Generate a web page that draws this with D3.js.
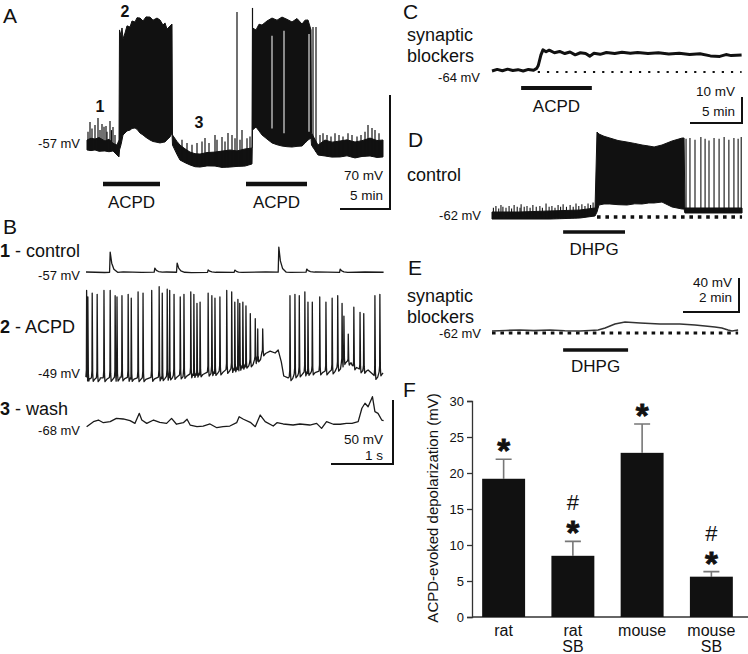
<!DOCTYPE html>
<html>
<head>
<meta charset="utf-8">
<script src="https://cdn.jsdelivr.net/npm/d3@7"></script>
<style>
body { margin: 0; background: #fff; }
svg { font-family: "Liberation Sans", Arial, Helvetica, sans-serif; }
text { fill: #111; }
</style>
</head>
<body>
<script>
// ---- panel A: whole-cell recording, time in min, voltage in mV
// envelope of the trace: [t, low mV, high mV]
var aEnvelope = [
  [0.0,-58.2,-52.1],[0.4,-58.6,-51.0],[0.8,-58.2,-51.5],[1.2,-59.0,-50.6],[1.8,-58.8,-52.7],[2.2,-59.3,-51.6],
  [2.6,-58.8,-54.1],[3.0,-61.3,-55.2],[3.2,-62.5,-52.1],
  [3.25,-58.2,15.5],[3.4,-55,12],[3.5,-52.1,16.7],[3.6,-49,10],[3.8,-47.8,13.6],[4.0,-46.5,18],[4.3,-46.0,17.3],
  [4.5,-45,21],[4.8,-44.7,20.4],[5.0,-45.5,23],[5.3,-47.8,22.8],[5.6,-49,21],[5.9,-50.5,23.5],[6.3,-52.1,23.4],
  [6.6,-53,21.5],[7.0,-53.5,22.8],[7.3,-53.9,21.6],[7.6,-53.5,18.5],[7.8,-53.3,19.8],[8.0,-52,16],[8.3,-50.2,17.9],[8.5,-47.8,19.1],
  [8.55,-55.2,-49.0],[9.0,-61,-53],[9.3,-64.4,-55.2],[9.8,-66,-57.5],[10.3,-67.4,-59.5],[10.8,-68.5,-60.5],[11.3,-68.7,-60.7],
  [12.0,-68.0,-59.8],[12.8,-68.1,-59.5],[13.5,-68.9,-58.9],[14.3,-68.7,-58.2],[15.0,-68.3,-58.8],[15.8,-68.1,-57.6],[16.5,-66.8,-57.0],
  [16.55,-46.0,16.7],[16.9,-44.1,15.5],[17.2,-46.5,19],[17.5,-49.0,18.5],[18.0,-51.5,21],[18.5,-53.9,22.8],[19.0,-55,21.5],
  [19.5,-55.8,23.4],[20.0,-56.2,22],[20.5,-56.4,20.4],[21.0,-56,22.5],[21.5,-55.8,19.1],[21.8,-54,21.5],[22.1,-52.1,21.6],[22.4,-50.9,15.5],
  [22.45,-55.2,-47.8],[23.1,-61.3,-55.2],[23.8,-61.9,-52.1],[24.5,-62.6,-53.4],[25.3,-62.5,-52.7],[26.0,-61.8,-52.0],
  [26.8,-63.1,-53.3],[27.5,-62.2,-52.5],[28.3,-61.9,-50.9],[29.0,-62.8,-52.4],[29.6,-62.5,-52.1]
];
// single events rising out of the envelope: [t, peak mV]
var aSpikes = [
  [0.1,-47],[0.3,-41],[0.5,-45],[0.8,-42.9],[1.1,-38.6],[1.3,-46],[1.5,-42.3],[1.7,-44],[1.9,-43.5],[2.0,-47],
  [2.3,-40.4],[2.45,-46],[2.6,-44.1],[2.8,-49],
  [9.5,-52],[10.0,-54],[10.5,-55],[11.0,-54],[11.5,-53],[11.8,-50.9],[12.2,-54],[12.8,-49],[13.0,-52],[13.5,-50.2],
  [13.8,-53],[14.1,-47.8],[14.5,-49],[14.8,-51],[15.0,26.5],[15.3,-52],[15.5,-46],[16.0,-51],[16.3,-50],[16.55,29],
  [22.6,17.3],[22.9,17.3],
  [23.3,-49],[23.6,-48],[24.0,-49],[24.4,-50],[24.8,-48],[25.2,-49],[25.6,-50],[26.1,-48],[26.5,-49],[27.0,-50],
  [27.4,-49],[27.8,-47],[28.1,-42.9],[28.5,-44.7],[28.8,-46],[29.2,-48]
];
// short pauses inside the second burst: [t, from mV, to mV]
var aGaps = [[18.5, -45, 12], [19.7, -48, 15], [22.2, -47, 13]];
var aDrug = [[1.6, 7.3], [15.9, 22.0]];
var aMarks = [["1", 1.3, -34.9], ["2", 3.8, 23.4], ["3", 11.2, -44.7]];

// ---- panel B: expanded sweeps, time in s, voltage in mV
var b1Base = [[0,-57],[0.3,-57.4],[0.6,-56.9],[0.9,-57.3],[1.3,-57.0],[1.7,-57.5],[2.1,-57.1],[2.5,-57.4],
  [2.9,-57.0],[3.3,-57.3],[3.7,-56.9],[4.1,-57.3],[4.5,-57.0],[4.8,-57.2]];
var b1Spikes = [[0.39,-41.4],[1.11,-53.9],[1.47,-50],[1.97,-55.4],[2.40,-55.5],[3.11,-37.5],[3.56,-54.7],[4.10,-54.7]];

var b2Base = [[0,-50.6],[0.23,-51.3],[0.55,-50.6],[0.87,-51.3],[1.19,-50.6],[1.52,-49],[1.84,-47.4],[2.16,-45.9],
  [2.40,-43.5],[2.65,-39.6],[2.77,-35.7],[2.85,-31],[2.97,-30.3],[3.05,-31.8],[3.10,-29.5],[3.15,-38.8],[3.19,-49.8],
  [3.26,-51.3],[3.37,-48.2],[3.61,-45.9],[3.94,-45.9],[4.10,-42],[4.18,-35.7],[4.29,-41.2],[4.42,-44.3],[4.55,-45.1],
  [4.65,-49.8],[4.74,-46.6],[4.79,-47.4]];
var b2Spikes = [[0.01,17],[0.03,12],[0.10,15],[0.18,14],[0.29,17],[0.39,17],[0.47,13],[0.50,12],[0.58,13],[0.68,14],
  [0.73,11],[0.84,16],[0.92,15],[1.06,17],[1.18,20],[1.23,15],[1.31,18],[1.35,17],[1.42,14],[1.52,12],[1.58,14],
  [1.69,16],[1.74,14],[1.79,7],[1.84,8],[1.97,15],[2.03,13],[2.08,11],[2.16,12],[2.27,17],[2.35,16],[2.40,8],
  [2.45,10],[2.48,7],[2.53,8],[2.58,5],[2.65,-1],[2.73,-5],[2.77,-13],[2.85,-13],
  [3.29,13],[3.37,14],[3.44,13],[3.53,16],[3.58,8],[3.65,8],[3.77,12],[3.87,8],[3.97,11],[4.06,13],[4.13,7],
  [4.16,-3],[4.23,-17],[4.32,4],[4.42,0],[4.48,-1],[4.66,13],[4.74,14]];

var b3Trace = [[0.01,-65.4],[0.12,-61.5],[0.20,-60.2],[0.28,-62.3],[0.39,-61.5],[0.49,-58.9],[0.60,-59.4],[0.71,-60.7],
  [0.79,-62.8],[0.86,-55],[0.90,-60.2],[0.98,-62.8],[1.09,-60.2],[1.19,-62],[1.30,-62.8],[1.38,-58.9],[1.46,-63.5],
  [1.57,-62.3],[1.63,-59.6],[1.68,-64.1],[1.79,-65.4],[1.89,-64.9],[2.00,-63.3],[2.11,-66.2],[2.21,-65.4],[2.32,-64.9],
  [2.43,-62.3],[2.47,-57.6],[2.54,-59.6],[2.65,-62],[2.73,-65.4],[2.81,-56.3],[2.89,-61.5],[3.02,-64.9],[3.08,-62.3],
  [3.18,-63.3],[3.34,-64.1],[3.45,-63.3],[3.61,-64.1],[3.72,-62.8],[3.80,-66.7],[3.88,-61.5],[3.99,-63.5],[4.10,-63.5],
  [4.20,-62.8],[4.29,-62.8],[4.39,-61.5],[4.45,-51],[4.50,-47.1],[4.55,-49.8],[4.62,-42],[4.66,-53.7],[4.71,-55],
  [4.77,-60.2],[4.80,-60.7]];

// ---- panel C: synaptic blockers, min / mV
var cTrace = [[0,-63.6],[0.5,-63.0],[1,-63.5],[1.5,-62.9],[2,-63.4],[2.5,-63.1],[3,-63.6],[3.5,-63.0],[4,-63.3],
  [4.3,-62.6],[4.45,-61.5],[4.7,-57.5],[4.9,-55.5],[5.2,-56.2],[5.5,-55.6],[6,-56.6],[6.5,-56.1],[7,-56.9],[7.5,-56.3],
  [8,-57.4],[8.5,-56.6],[9,-56.9],[9.4,-57.9],[9.8,-56.8],[10.4,-57.2],[11,-56.5],[11.8,-56.9],[12.5,-56.4],[13.3,-56.8],
  [14,-56.5],[15,-56.9],[16,-56.6],[17,-57.1],[18,-56.8],[19,-57.3],[20,-57.0],[21,-57.8],[21.9,-58.0],[22.5,-57.3],
  [23,-57.7],[24,-57.5]];
var cDrug = [2.8, 9.6];
var cRest = -64;

// ---- panel D: DHPG in control, min / mV
var dEnvelope = [
  [0,-64.4,-56.1],[1,-64.4,-56.1],[2.07,-64.4,-54.9],[3.14,-63.2,-53.8],[3.68,-60.8,-51.4],
  [3.75,-56.1,38],[3.82,-47.9,35.6],[4.0,-46.7,33],[4.21,-46.7,30.9],[4.5,-47.5,28],[4.82,-47.9,26.2],[5.1,-46.5,24.5],
  [5.36,-46.7,22.7],[5.6,-45.5,21.5],[5.79,-45.5,20.4],[6.07,-44.4,22.7],[6.43,-50.2,27.4],[6.79,-52.6,30.9],[6.86,-52.6,30.9],
  [6.89,-57.3,-51.4],[8.93,-57.3,-51.4]
];
var dSpikes = [[0.05,-51],[0.14,-49],[0.24,-52],[0.32,-48],[0.39,-50],[0.5,-51],[0.61,-49],[0.7,-52],[0.79,-48],
  [0.9,-50],[1.0,-51],[1.04,-47],[1.15,-50],[1.25,-49],[1.36,-51],[1.46,-48],[1.58,-50],[1.71,-49],[1.8,-51],
  [1.93,-46],[2.04,-50],[2.14,-49],[2.25,-51],[2.36,-48],[2.45,-50],[2.54,-47],[2.66,-50],[2.79,-48],[2.9,-50],
  [3.0,-46],[3.1,-49],[3.21,-47],[3.32,-49],[3.43,-46],[3.52,-48],[3.61,-45],
  [6.93,30],[7.07,31],[7.25,29],[7.46,32],[7.61,30],[7.75,28],[7.93,31],[8.11,30],[8.29,32],[8.46,29],[8.64,31],
  [8.79,30],[8.9,32]];
var dDrug = [2.54, 4.75];
var dRest = -62;

// ---- panel E: DHPG with synaptic blockers, min / mV
var eTrace = [[0,-59.6],[0.5,-59.0],[1,-58.5],[1.5,-59.2],[2.07,-58.5],[2.6,-59.3],[3.14,-59.6],[3.5,-59.0],[3.79,-58.5],
  [4.04,-56.1],[4.39,-51.4],[4.75,-49.1],[5.29,-50.2],[6.0,-51.4],[6.71,-51.4],[7.25,-52.6],[7.61,-53.8],[7.96,-54.9],
  [8.21,-56.1],[8.43,-58.5],[8.57,-59.6],[8.79,-58.5]];
var eDrug = [2.54, 4.86];
var eRest = -62;

// ---- panel F: summary bars
var fCats = ["rat", "rat SB", "mouse", "mouse SB"];
var fMeans = [19.2, 8.5, 22.8, 5.6];
var fSem = [2.7, 2.0, 4.0, 0.7];
var fStar = [true, true, true, true];
var fHash = [false, true, false, true];
var fTicks = [0, 5, 10, 15, 20, 25, 30];

var width = 748, height = 654;
var ink = "#111";

var svg = d3.select("body").append("svg")
    .attr("width", width)
    .attr("height", height);
svg.append("rect").attr("width", width).attr("height", height).attr("fill", "#fff");

function txt(x, y, s, size, anchor, weight) {
  return svg.append("text")
    .attr("x", x).attr("y", y)
    .attr("font-size", size)
    .attr("text-anchor", anchor || "start")
    .attr("font-weight", weight || "normal")
    .text(s);
}

function interp(arr, t, k) {
  k = k || 1;
  var i = d3.bisector(function(d) { return d[0]; }).left(arr, t);
  if (i <= 0) return arr[0][k];
  if (i >= arr.length) return arr[arr.length - 1][k];
  var a = arr[i - 1], b = arr[i];
  return a[k] + (b[k] - a[k]) * (t - a[0]) / (b[0] - a[0]);
}

// puts spike waveforms (shape = [dt, fraction of amplitude, extra mV]) on a baseline
function withSpikes(base, spikes, shape) {
  var t0 = shape[0][0], t1 = shape[shape.length - 1][0];
  var pts = base.filter(function(p) {
    return !spikes.some(function(s) { return p[0] > s[0] + t0 && p[0] < s[0] + t1; });
  });
  spikes.forEach(function(s) {
    var b = interp(base, s[0]);
    shape.forEach(function(p) {
      pts.push([s[0] + p[0], b + p[1] * (s[1] - b) + (p[2] || 0)]);
    });
  });
  pts.sort(function(a, b) { return a[0] - b[0]; });
  return pts;
}

function line(xs, ys) {
  return d3.line().x(function(d) { return xs(d[0]); }).y(function(d) { return ys(d[1]); });
}

function envelope(xs, ys, data) {
  svg.append("path")
    .datum(data)
    .attr("d", d3.area()
      .x(function(d) { return xs(d[0]); })
      .y0(function(d) { return ys(d[1]); })
      .y1(function(d) { return ys(d[2]); }))
    .attr("fill", ink).attr("stroke", ink).attr("stroke-width", 1);
}

function spikeLines(xs, ys, data, env, w) {
  svg.selectAll(null)
    .data(data)
    .enter()
    .append("line")
    .attr("x1", function(d) { return xs(d[0]); })
    .attr("x2", function(d) { return xs(d[0]); })
    .attr("y1", function(d) { return ys(interp(env, d[0], 1)); })
    .attr("y2", function(d) { return ys(d[1]); })
    .attr("stroke", ink).attr("stroke-width", w || 1.3);
}

function drugBar(xs, t, y, w) {
  svg.append("line")
    .attr("x1", xs(t[0])).attr("x2", xs(t[1]))
    .attr("y1", y).attr("y2", y)
    .attr("stroke", ink).attr("stroke-width", w);
}

function scaleBar(x, y, wpx, hpx) {
  svg.append("path")
    .attr("d", "M" + x + "," + (y - hpx) + "V" + y + "H" + (x - wpx))
    .attr("fill", "none").attr("stroke", ink).attr("stroke-width", 2);
}

function restLine(xs, ys, t0, t1, v, w, dash) {
  svg.append("line")
    .attr("x1", xs(t0)).attr("x2", xs(t1))
    .attr("y1", ys(v)).attr("y2", ys(v))
    .attr("stroke", ink).attr("stroke-width", w)
    .attr("stroke-dasharray", dash);
}

// ================= A
var xA = d3.scaleLinear().domain([0, 29.6]).range([87, 383]);
var yA = d3.scaleLinear().domain([-57, 13]).range([148, 34]);

txt(3, 23, "A", 21);
envelope(xA, yA, aEnvelope);
spikeLines(xA, yA, aSpikes, aEnvelope, 1.2);
svg.selectAll(null)
  .data(aGaps)
  .enter()
  .append("line")
  .attr("x1", function(d) { return xA(d[0]); })
  .attr("x2", function(d) { return xA(d[0]); })
  .attr("y1", function(d) { return yA(d[1]); })
  .attr("y2", function(d) { return yA(d[2]); })
  .attr("stroke", "#ddd").attr("stroke-width", 1.2);
aDrug.forEach(function(d) {
  drugBar(xA, d, 184, 4.5);
  txt(xA((d[0] + d[1]) / 2), 208, "ACPD", 17, "middle");
});
aMarks.forEach(function(m) { txt(xA(m[1]), yA(m[2]), m[0], 16, "middle", "bold"); });
txt(80, 148, "-57 mV", 13, "end");
scaleBar(390, 209, xA(5) - xA(0), yA(-57) - yA(13));
txt(383, 180, "70 mV", 13.5, "end");
txt(383, 200, "5 min", 13.5, "end");

// ================= B
var xB = d3.scaleLinear().domain([0, 4.8]).range([86, 383.6]);
var yB1 = d3.scaleLinear().domain([-57, -7]).range([272, 208]);
var yB2 = d3.scaleLinear().domain([-49, 1]).range([375, 311]);
var yB3 = d3.scaleLinear().domain([-68, -18]).range([430, 366]);

var epsp = [[-0.01, 0], [0, 1], [0.025, 0.45], [0.06, 0.15], [0.12, 0]];
var ap = [[-0.012, 0], [-0.004, 0.08], [0, 1], [0.008, 0.05], [0.016, 0, -3], [0.045, 0, -1.2]];

txt(3, 234, "B", 21);
[[yB1, withSpikes(b1Base, b1Spikes, epsp)],
 [yB2, withSpikes(b2Base, b2Spikes, ap)],
 [yB3, b3Trace]].forEach(function(tr) {
  svg.append("path")
    .datum(tr[1])
    .attr("d", line(xB, tr[0]))
    .attr("fill", "none").attr("stroke", "#1a1a1a").attr("stroke-width", 1.3)
    .attr("stroke-linejoin", "round");
});

[["1", " - control", 257, "-57 mV", 280],
 ["2", " - ACPD", 333, "-49 mV", 378],
 ["3", " - wash", 415, "-68 mV", 435]].forEach(function(r) {
  var t = svg.append("text").attr("x", 0).attr("y", r[2]).attr("font-size", 18);
  t.append("tspan").attr("font-weight", "bold").text(r[0]);
  t.append("tspan").text(r[1]);
  txt(80, r[4], r[3], 13, "end");
});
scaleBar(393, 464, xB(1) - xB(0), yB1(-57) - yB1(-7));
txt(383, 444, "50 mV", 13.5, "end");
txt(383, 460, "1 s", 13.5, "end");

// ================= C
var xC = d3.scaleLinear().domain([0, 24]).range([492, 741.6]);
var yC = d3.scaleLinear().domain([-64, -54]).range([72, 46]);

txt(403, 19, "C", 21);
txt(407, 41, "synaptic", 18);
txt(407, 62, "blockers", 18);
txt(480, 82, "-64 mV", 13, "end");
restLine(xC, yC, 4.4, 24, cRest, 2.2, "2.2,7");
svg.append("path")
  .datum(cTrace)
  .attr("d", line(xC, yC))
  .attr("fill", "none").attr("stroke", ink).attr("stroke-width", 3)
  .attr("stroke-linejoin", "round");
drugBar(xC, cDrug, 88, 4);
txt(xC((cDrug[0] + cDrug[1]) / 2), 112, "ACPD", 17, "middle");
scaleBar(742, 123, xC(5) - xC(0), yC(-64) - yC(-54));
txt(735, 96, "10 mV", 13.5, "end");
txt(735, 116, "5 min", 13.5, "end");

// ================= D
var xD = d3.scaleLinear().domain([0, 9]).range([492, 744]);
var yD = d3.scaleLinear().domain([-62, -22]).range([217, 183]);

txt(408, 147, "D", 21);
txt(407, 181, "control", 18);
txt(481, 220, "-62 mV", 13, "end");
envelope(xD, yD, dEnvelope);
spikeLines(xD, yD, dSpikes, dEnvelope, 1.1);
restLine(xD, yD, 3.75, 8.93, dRest, 3.5, "3.6,4.8");
drugBar(xD, dDrug, 232, 3.5);
txt(xD((dDrug[0] + dDrug[1]) / 2), 255, "DHPG", 17, "middle");

// ================= E
var yE = d3.scaleLinear().domain([-62, -22]).range([333, 299]);

txt(408, 275, "E", 21);
txt(407, 302, "synaptic", 18);
txt(407, 323, "blockers", 18);
txt(481, 338, "-62 mV", 13, "end");
restLine(xD, yE, 0, 8.79, eRest, 3.2, "3.6,4.8");
svg.append("path")
  .datum(eTrace)
  .attr("d", line(xD, yE))
  .attr("fill", "none").attr("stroke", "#333").attr("stroke-width", 1.6);
drugBar(xD, eDrug, 350, 3.5);
txt(xD((eDrug[0] + eDrug[1]) / 2), 372, "DHPG", 17, "middle");
scaleBar(739, 312, xD(2) - xD(0), yE(-62) - yE(-22));
txt(732, 287, "40 mV", 13.5, "end");
txt(732, 302, "2 min", 13.5, "end");

// ================= F
var xF = d3.scaleBand().domain(fCats).range([469, 746]).paddingInner(0.38).paddingOuter(0.19);
var yF = d3.scaleLinear().domain([0, 30]).range([617, 401]);

txt(403, 397, "F", 21);

var gF = svg.append("g");
gF.append("g")
  .attr("transform", "translate(472,0)")
  .call(d3.axisLeft(yF).tickValues(fTicks).tickSize(5).tickPadding(3))
  .call(function(g) {
    g.select(".domain").attr("stroke", "#333").attr("stroke-width", 1.3);
    g.selectAll(".tick line").attr("stroke", "#333").attr("stroke-width", 1.3);
    g.selectAll(".tick text").attr("font-size", 13).attr("fill", "#222")
      .attr("font-family", "Liberation Sans, Arial, sans-serif");
  });
gF.append("line")
  .attr("x1", 472).attr("x2", 748).attr("y1", yF(0)).attr("y2", yF(0))
  .attr("stroke", "#333").attr("stroke-width", 1.3);

gF.selectAll(".err")
  .data(fCats)
  .enter()
  .append("path")
  .attr("class", "err")
  .attr("d", function(c, i) {
    var cx = xF(c) + xF.bandwidth() / 2;
    return "M" + cx + "," + yF(fMeans[i]) + "V" + yF(fMeans[i] + fSem[i]) +
      "M" + (cx - 8) + "," + yF(fMeans[i] + fSem[i]) + "H" + (cx + 8);
  })
  .attr("fill", "none").attr("stroke", "#777").attr("stroke-width", 1.6);

gF.selectAll(".bar")
  .data(fCats)
  .enter()
  .append("rect")
  .attr("class", "bar")
  .attr("x", function(c) { return xF(c); })
  .attr("width", xF.bandwidth())
  .attr("y", function(c, i) { return yF(fMeans[i]); })
  .attr("height", function(c, i) { return yF(0) - yF(fMeans[i]); })
  .attr("fill", ink);

fCats.forEach(function(c, i) {
  var cx = xF(c) + xF.bandwidth() / 2;
  var top = yF(fMeans[i] + fSem[i]);
  if (fStar[i]) {
    txt(cx, top - 16 + 19, "*", 33, "middle", "bold")
      .attr("stroke", ink).attr("stroke-width", 0.8);
  }
  if (fHash[i]) txt(cx, top - 39 + 8, "#", 22, "middle");
  var parts = c.split(" ");
  parts.forEach(function(p, j) { txt(cx, 636 + j * 16, p, 16, "middle"); });
});

svg.append("text")
  .attr("transform", "translate(438,508) rotate(-90)")
  .attr("text-anchor", "middle")
  .attr("font-size", 15)
  .text("ACPD-evoked depolarization (mV)");
</script>
</body>
</html>
